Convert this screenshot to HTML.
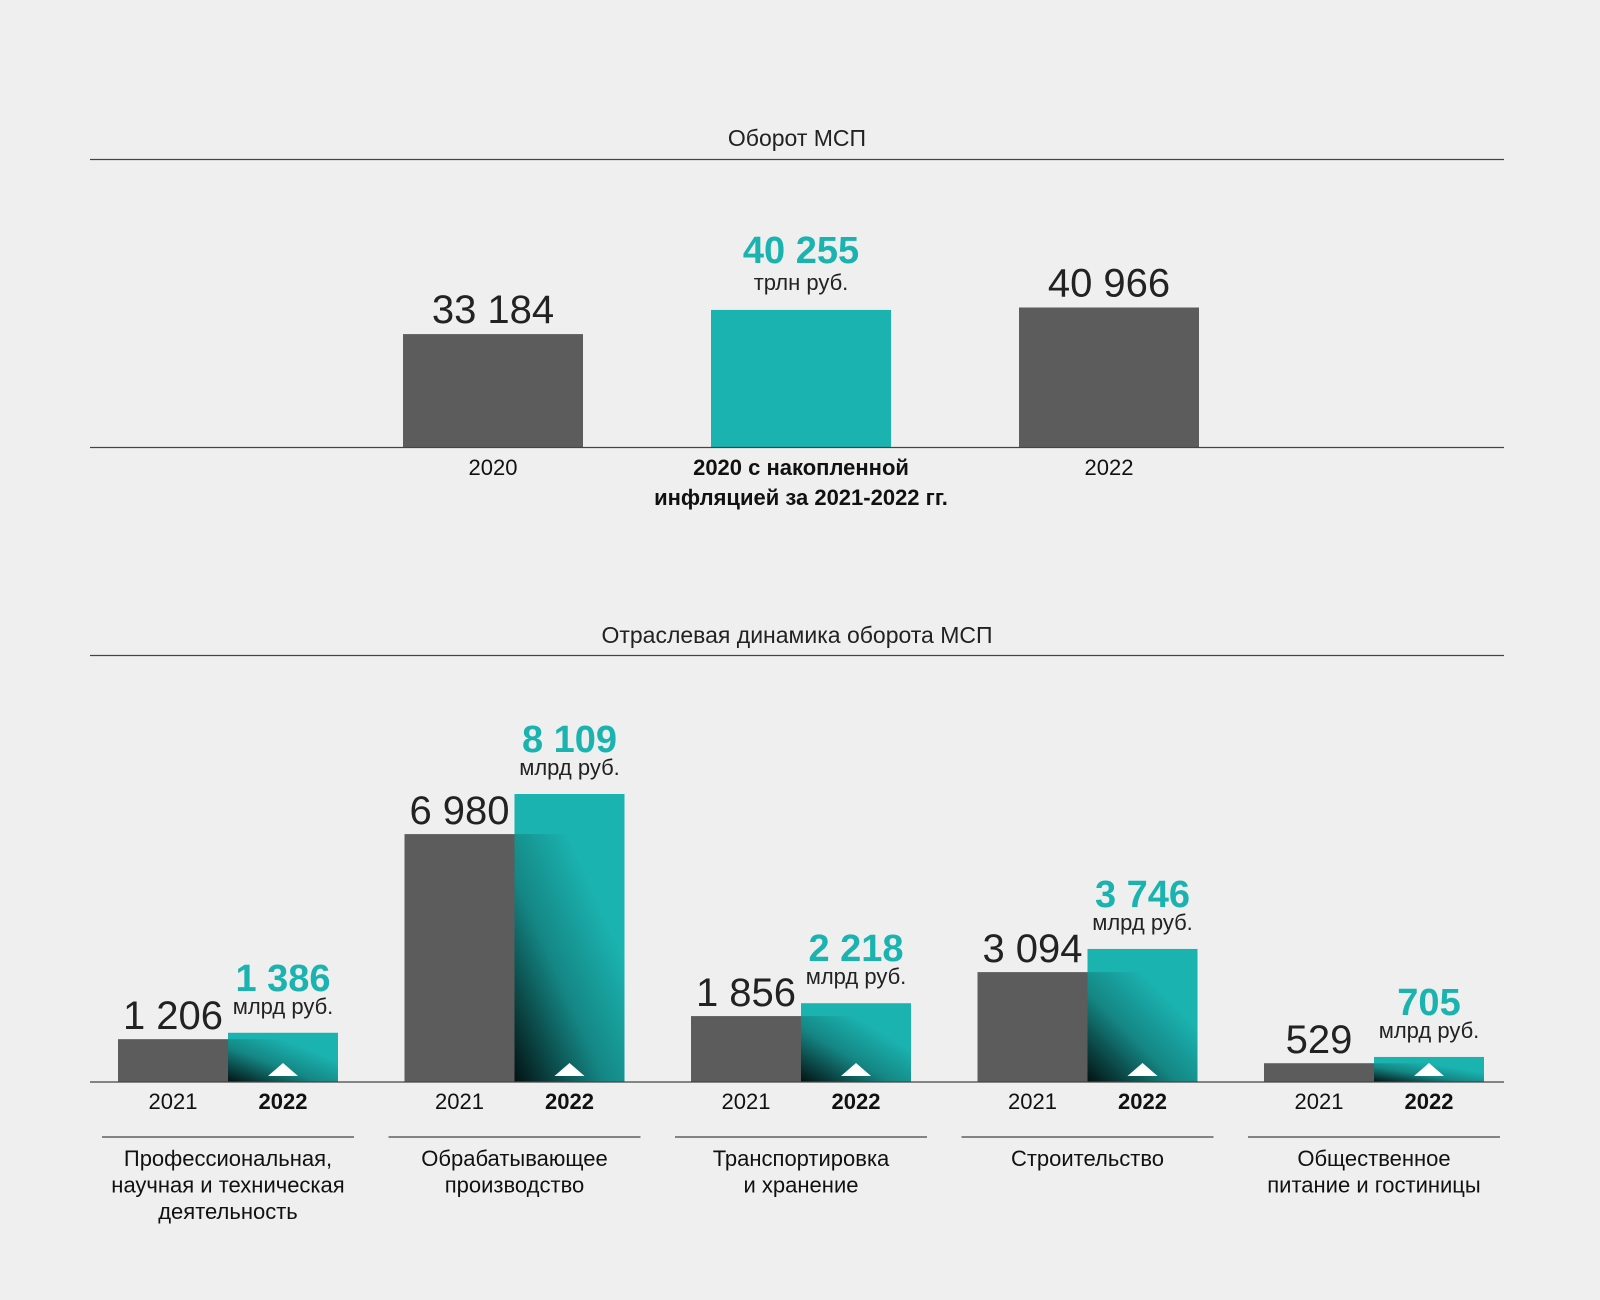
<!DOCTYPE html>
<html><head><meta charset="utf-8"><style>
html,body{margin:0;padding:0;background:#efefef;}
svg{display:block;font-family:"Liberation Sans",sans-serif;}
</style></head><body>
<svg id="c" width="1600" height="1300" viewBox="0 0 1600 1300" xmlns="http://www.w3.org/2000/svg">
<defs>
<linearGradient id="shade" x1="0" y1="1" x2="0.75" y2="0.25">
<stop offset="0" stop-color="#000" stop-opacity="0.9"/>
<stop offset="0.55" stop-color="#000" stop-opacity="0.25"/>
<stop offset="1" stop-color="#000" stop-opacity="0"/>
</linearGradient>
</defs>
<rect width="1600" height="1300" fill="#efefef"/>
<text x="797" y="146" text-anchor="middle" font-size="23" fill="#222">Оборот МСП</text>
<line x1="90" y1="159.5" x2="1504" y2="159.5" stroke="#444" stroke-width="1.3"/>
<text x="797" y="643" text-anchor="middle" font-size="23" fill="#222">Отраслевая динамика оборота МСП</text>
<line x1="90" y1="655.5" x2="1504" y2="655.5" stroke="#444" stroke-width="1.3"/>
<g id="top"></g>
<g id="bot"></g>
</svg>
<script>
// Top chart data
const topCats = ["2020", "2020 с накопленной|инфляцией за 2021-2022 гг.", "2022"];
const topValues = [33184, 40255, 40966];
const topLabels = ["33 184", "40 255", "40 966"];
const topHighlight = [false, true, false];
// Bottom chart data
const sectors = ["Профессиональная,|научная и техническая|деятельность", "Обрабатывающее|производство", "Транспортировка|и хранение", "Строительство", "Общественное|питание и гостиницы"];
const values2021 = [1206, 6980, 1856, 3094, 529];
const values2022 = [1386, 8109, 2218, 3746, 705];
const labels2021 = ["1 206", "6 980", "1 856", "3 094", "529"];
const labels2022 = ["1 386", "8 109", "2 218", "3 746", "705"];
const years = ["2021", "2022"];

const NS = "http://www.w3.org/2000/svg";
function mk(tag, attrs, parent, txt) {
  const e = document.createElementNS(NS, tag);
  for (const k in attrs) e.setAttribute(k, attrs[k]);
  if (txt !== undefined) e.textContent = txt;
  parent.appendChild(e);
  return e;
}
const GRAY = "#5c5c5c", TEAL = "#1bb3b0";

// top chart
const gt = document.getElementById("top");
const tBase = 447.5;
const tScale = 140 / 40966;
const tX = i => 403 + i * 308;
const tW = 180;
const tY = v => tBase - v * tScale;
topValues.forEach((v, i) => {
  const x = tX(i), y = tY(v), cx = x + tW / 2;
  const r = mk("rect", {x: x, y: y, width: tW, height: tBase - y, fill: topHighlight[i] ? TEAL : GRAY}, gt);
  
  
  if (topHighlight[i]) {
    const t = mk("text", {x: cx, y: y - 47, "text-anchor": "middle", "font-size": 38, "font-weight": "bold", fill: TEAL}, gt, topLabels[i]);
    
    
    const u = mk("text", {x: cx, y: y - 20, "text-anchor": "middle", "font-size": 22, fill: "#222"}, gt, "трлн руб.");
    
    
  } else {
    const t = mk("text", {x: cx, y: y - 11, "text-anchor": "middle", "font-size": 40, fill: "#222"}, gt, topLabels[i]);
    
    
  }
  topCats[i].split("|").forEach((line, j) => {
    const c = mk("text", {x: cx, y: 475 + j * 30, "text-anchor": "middle", "font-size": 22, fill: "#111", "font-weight": topHighlight[i] ? "bold" : "normal"}, gt, line);
    
    
  });
});
const tl = mk("line", {x1: 90, y1: tBase, x2: 1504, y2: tBase, stroke: "#444", "stroke-width": 1.3}, gt);



// bottom chart
const gb = document.getElementById("bot");
const bBase = 1082;
const bScale = 288 / 8109;
const gX = i => 118 + i * 286.5;
const bw = 110;
const bY = v => bBase - v * bScale;
sectors.forEach((s, i) => {
  const x0 = gX(i), x1 = x0 + bw;
  const y0 = bY(values2021[i]), y1 = bY(values2022[i]);
  const r0 = mk("rect", {x: x0, y: y0, width: bw, height: bBase - y0, fill: GRAY}, gb);
  
  
  const r1 = mk("rect", {x: x1, y: y1, width: bw, height: bBase - y1, fill: TEAL}, gb);
  
  
  const sh = mk("rect", {x: x1, y: y0, width: bw, height: bBase - y0, fill: "url(#shade)"}, gb);
  
  
  const cx1 = x1 + bw / 2;
  const tri = mk("polygon", {points: `${cx1-15},${bBase-6} ${cx1+15},${bBase-6} ${cx1},${bBase-19}`, fill: "#fff"}, gb);
  
  
  const v0 = mk("text", {x: x0 + bw / 2, y: y0 - 10, "text-anchor": "middle", "font-size": 40, fill: "#222"}, gb, labels2021[i]);
  
  
  const v1 = mk("text", {x: cx1, y: y1 - 42, "text-anchor": "middle", "font-size": 38, "font-weight": "bold", fill: TEAL}, gb, labels2022[i]);
  
  
  const u = mk("text", {x: cx1, y: y1 - 19, "text-anchor": "middle", "font-size": 22, fill: "#222"}, gb, "млрд руб.");
  
  
  years.forEach((yr, j) => {
    const t = mk("text", {x: x0 + bw / 2 + j * bw, y: 1109, "text-anchor": "middle", "font-size": 22, fill: "#111", "font-weight": j ? "bold" : "normal"}, gb, yr);
    
    
  });
  const sep = mk("line", {x1: x0 - 16, y1: 1137, x2: x0 + 2 * bw + 16, y2: 1137, stroke: "#444", "stroke-width": 1.2}, gb);
  
  
  s.split("|").forEach((line, j) => {
    const t = mk("text", {x: x0 + bw, y: 1166 + j * 26.5, "text-anchor": "middle", "font-size": 22, fill: "#111"}, gb, line);
    
    
  });
});
const bl = mk("line", {x1: 90, y1: bBase, x2: 1504, y2: bBase, stroke: "#444", "stroke-width": 1.3}, gb);


</script>
</body></html>
